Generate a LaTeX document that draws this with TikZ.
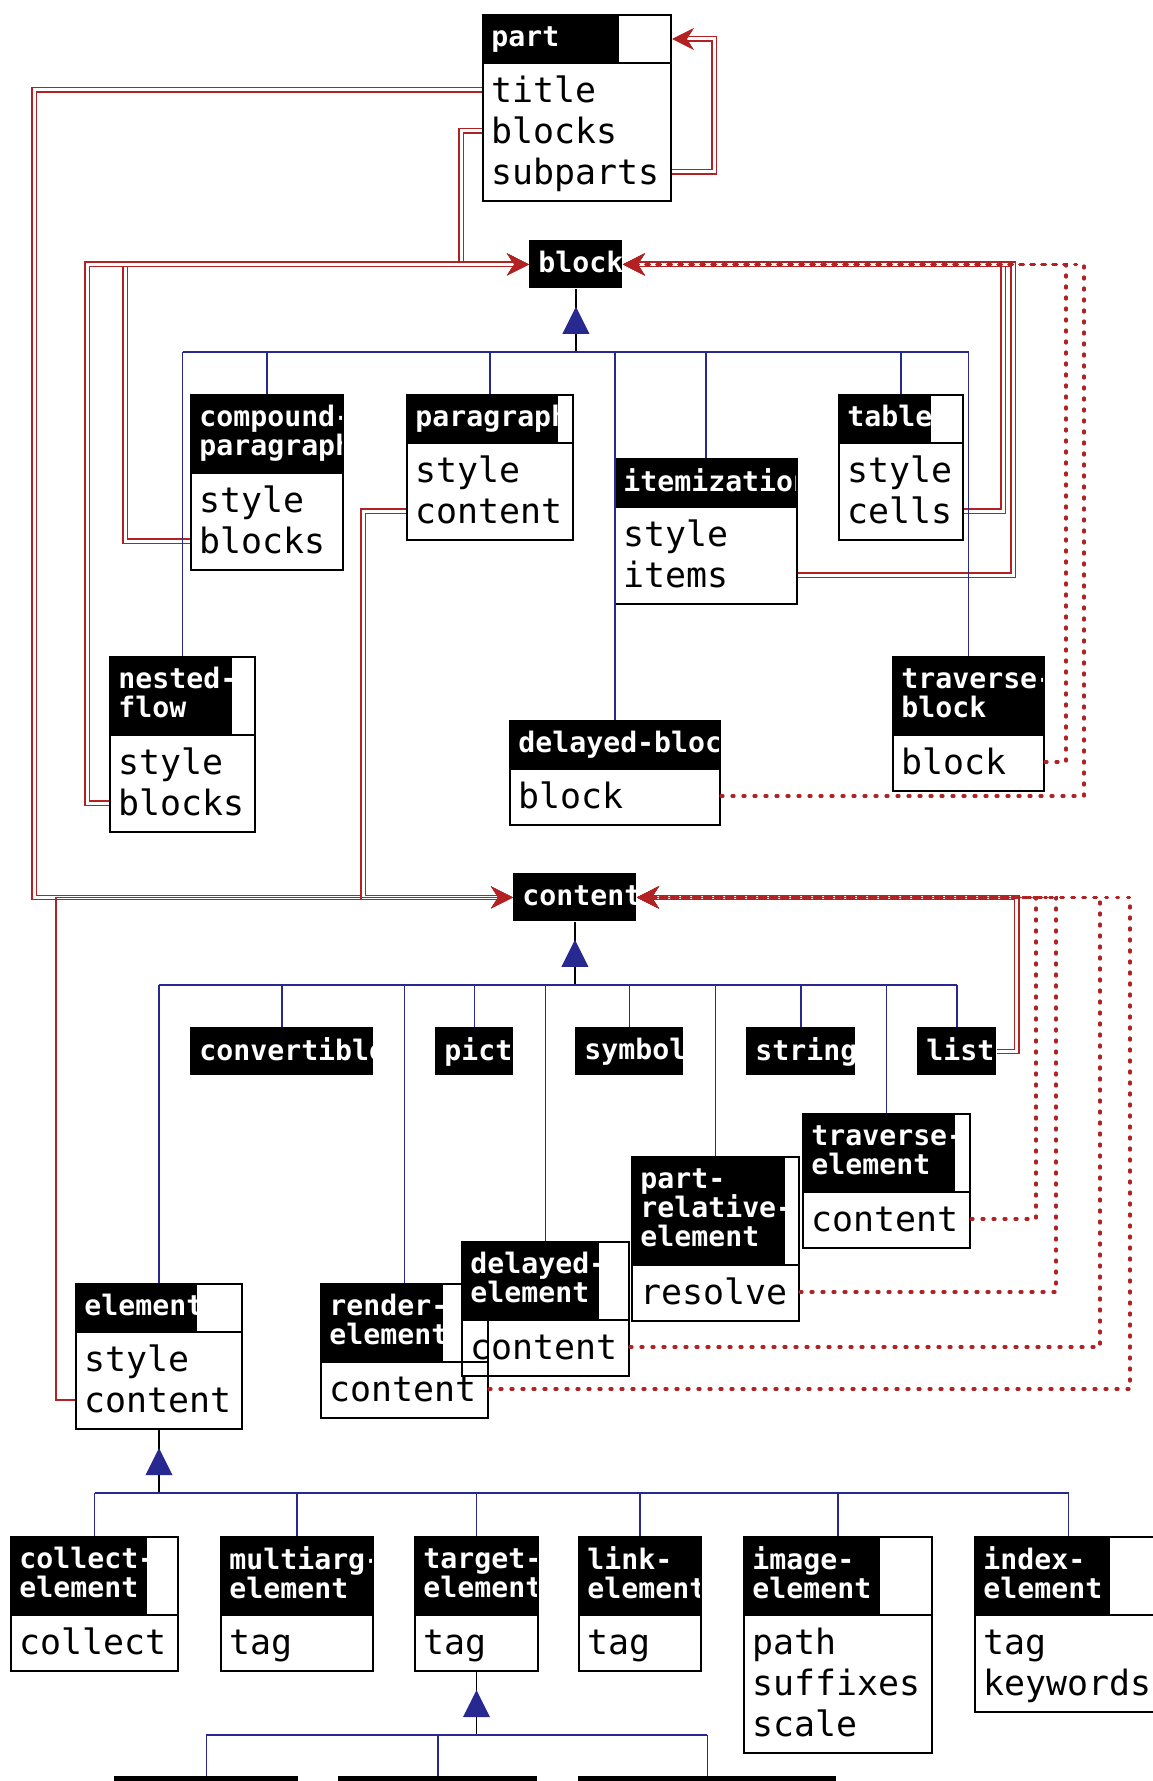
\documentclass[tikz,border=0pt]{standalone}
\usepackage{fontspec}
\setmonofont{DejaVu Sans Mono}
\usetikzlibrary{arrows.meta,calc}

\definecolor{linkred}{RGB}{178,34,34}
\definecolor{inhblue}{RGB}{40,40,145}

\newcommand{\headstrut}{\rule{0pt}{11pt}}
\newcommand{\bodystrut}{\rule{0pt}{14pt}}

\tikzset{
  boxframe/.style={draw=black, line width=1pt, inner sep=0pt, anchor=north west},
  headbox/.style={fill=black, inner sep=0pt, anchor=north west},
  headtext/.style={text=white, inner sep=0pt, anchor=north west, align=left,
    font=\ttfamily\bfseries\fontsize{14.1pt}{14.5pt}\selectfont},
  bodytext/.style={inner sep=0pt, anchor=north west, align=left,
    font=\ttfamily\fontsize{17.44pt}{20.5pt}\selectfont},
  inherit/.style={draw=inhblue, line width=0.8pt},
  stemline/.style={draw=black, line width=0.6pt},
  redtip/.style={-{Stealth[length=11pt,width=11pt,inset=3.5pt]}},
  composition/.style={draw=linkred, line width=0.7pt, double=white, double distance=1.5pt, redtip},
  refline/.style={draw=linkred, line width=1.6pt, line cap=round, dash pattern=on 1pt off 4.5pt, redtip},
  aggregation/.style={draw=linkred, line width=0.9pt, redtip},
}

% name, x, y, width, black width, header lines, header, body lines, body
\newcommand{\classbox}[9]{%
  \pgfmathsetmacro{\headh}{48+30*(#6-1)}%
  \pgfmathsetmacro{\bodyh}{56+41*(#8-1)}%
  \fill[black] (#2,#3) rectangle ++(#5,\headh);
  \begin{scope}
    \clip (#2,#3) rectangle ++(#5,\headh);
    \node[headtext] (#1-ht) at ({#2+9},{#3+10}) {\headstrut#7};
  \end{scope}
  \node[boxframe, minimum width={#4*0.5pt}, minimum height={\headh*0.5pt}] (#1-h) at (#2,#3) {};
  \node[boxframe, minimum width={#4*0.5pt}, minimum height={\bodyh*0.5pt}] (#1) at (#2,{#3+\headh}) {};
  \node[bodytext] (#1-bt) at ({#2+9},{#3+\headh+12}) {\bodystrut#9};
  \foreach \rw in {1,...,#8}
    \coordinate (#1-r\rw) at (#2,{#3+\headh+28+41*(\rw-1)});
}

% name, x, y, width, text
\newcommand{\classhead}[5]{%
  \node[headbox, minimum width={#4*0.5pt}, minimum height=24pt] (#1) at (#2,#3) {};
  \begin{scope}
    \clip (#2,#3) rectangle ++(#4,48);
    \node[headtext] (#1-ht) at ({#2+9},{#3+10}) {\headstrut#5};
  \end{scope}
}

% parent, first child, last child, children
\newcommand{\inheritance}[4]{%
  \coordinate (#1-bus) at ($(#1.south)+(0,63)$);
  \draw[stemline] (#1.south) -- (#1-bus);
  \fill[inhblue] ($(#1.south)+(0,18)$) -- ++(-13.5,27) -- ++(27,0) -- cycle;
  \draw[inherit] (#1-bus -| #2.north) -- (#1-bus -| #3.north);
  \foreach \child in {#4}
    \draw[inherit] (#1-bus -| \child.north) -- (\child.north);
}

\begin{document}
\begin{tikzpicture}[x=0.5pt, y=-0.5pt]
  \fill[white] (0,0) rectangle (1152,1781);
  \useasboundingbox (0,0) rectangle (1152,1781);

  % blocks
  \classbox{part}{482}{14}{188}{137}{1}{part}{3}{title\\blocks\\subparts}
  \classhead{block}{529}{240}{93}{block}
  \classbox{compound}{190}{394}{152}{152}{2}{compound-\\paragraph}{2}{style\\blocks}
  \classbox{paragraph}{406}{394}{166}{152}{1}{paragraph}{2}{style\\content}
  \classbox{itemization}{614}{458}{182}{182}{1}{itemization}{2}{style\\items}
  \classbox{table}{838}{394}{124}{93}{1}{table}{2}{style\\cells}
  \classbox{nested}{109}{656}{145}{123}{2}{nested-\\flow}{2}{style\\blocks}
  \classbox{delayedblock}{509}{720}{210}{210}{1}{delayed-block}{1}{block}
  \classbox{traverseblock}{892}{656}{151}{151}{2}{traverse-\\block}{1}{block}

  % content
  \classhead{content}{513}{873}{123}{content}
  \classhead{convertible}{190}{1027}{183}{convertible}
  \classhead{pict}{435}{1027}{78}{pict}
  \classhead{symbol}{575}{1027}{108}{symbol}
  \classhead{string}{746}{1027}{109}{string}
  \classhead{list}{917}{1027}{79}{list}
  \classbox{travelem}{802}{1113}{167}{153}{2}{traverse-\\element}{1}{content}
  \classbox{partrel}{631}{1156}{167}{154}{3}{part-\\relative-\\element}{1}{resolve}
  \classbox{delelem}{461}{1241}{167}{138}{2}{delayed-\\element}{1}{content}
  \classbox{render}{320}{1283}{167}{123}{2}{render-\\element}{1}{content}
  \classbox{element}{75}{1283}{166}{122}{1}{element}{2}{style\\content}

  % elements
  \classbox{collect}{10}{1536}{167}{137}{2}{collect-\\element}{1}{collect}
  \classbox{multiarg}{220}{1536}{152}{152}{2}{multiarg-\\element}{1}{tag}
  \classbox{target}{414}{1536}{123}{123}{2}{target-\\element}{1}{tag}
  \classbox{link}{578}{1536}{122}{122}{2}{link-\\element}{1}{tag}
  \classbox{image}{743}{1536}{188}{137}{2}{image-\\element}{3}{path\\suffixes\\scale}
  \classbox{index}{974}{1536}{187}{136}{2}{index-\\element}{2}{tag\\keywords}
  \node[headbox, minimum width=92pt, minimum height=24pt] (targetsub1) at (114,1776) {};
  \node[headbox, minimum width=99.5pt, minimum height=24pt] (targetsub2) at (338,1776) {};
  \node[headbox, minimum width=129pt, minimum height=24pt] (targetsub3) at (578,1776) {};

  % composition
  \draw[composition] (part-r3 -| part.east) -- ++(42,0) |- (part-h.east);
  \draw[composition] (part-r1) -- ++(-448,0) |- (content.west);
  \draw[composition] (part-r2) -- ++(-21,0) |- (block.west);
  \draw[composition] (compound-r2) -- ++(-65,0) |- (block.west);
  \draw[composition] (nested-r2) -- ++(-22,0) |- (block.west);
  \draw[composition] (paragraph-r2) -- ++(-43,0) |- (content.west);
  \draw[composition] (table-r2 -| table.east) -- ++(39,0) |- (block.east);
  \draw[composition] (itemization-r2 -| itemization.east) -- ++(215,0) |- (block.east);
  \draw[composition] (list.east) -- ++(20,0) |- (content.east);
  \draw[aggregation] (element-r2) -- ++(-19,0) |- (content.west);

  % references
  \draw[refline] (traverseblock-r1 -| traverseblock.east) -- ++(21,0) |- (block.east);
  \draw[refline] (delayedblock-r1 -| delayedblock.east) -- ++(363,0) |- (block.east);
  \draw[refline] (travelem-r1 -| travelem.east) -- ++(65,0) |- (content.east);
  \draw[refline] (partrel-r1 -| partrel.east) -- ++(256,0) |- (content.east);
  \draw[refline] (delelem-r1 -| delelem.east) -- ++(470,0) |- (content.east);
  \draw[refline] (render-r1 -| render.east) -- ++(641,0) |- (content.east);

  % inheritance
  \inheritance{block}{nested-h}{traverseblock-h}{nested-h,compound-h,paragraph-h,delayedblock-h,itemization-h,table-h,traverseblock-h}
  \inheritance{content}{element-h}{list}{element-h,convertible,render-h,pict,delelem-h,symbol,partrel-h,string,travelem-h,list}
  \inheritance{element}{collect-h}{index-h}{collect-h,multiarg-h,target-h,link-h,image-h,index-h}
  \inheritance{target}{targetsub1}{targetsub3}{targetsub1,targetsub2,targetsub3}
\end{tikzpicture}
\end{document}
